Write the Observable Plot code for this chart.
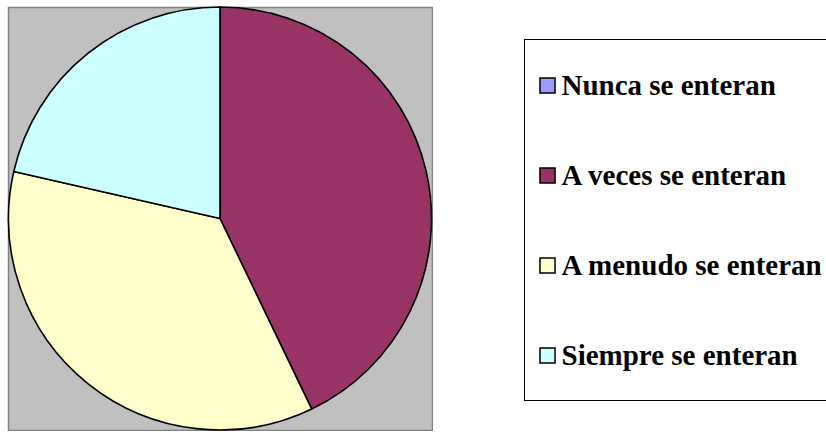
<!DOCTYPE html>
<html><head><meta charset="utf-8">
<script src="https://cdn.jsdelivr.net/npm/d3@7"></script>
<script src="https://cdn.jsdelivr.net/npm/@observablehq/plot@0.6"></script>
<style>
html,body{margin:0;padding:0;background:#fff;overflow:hidden;width:826px;height:432px}
#pie{position:absolute;left:0;top:0}
#legend{position:absolute;left:524px;top:39px}
#legend svg{border:1px solid #000;border-right:none;display:block;overflow:visible}
</style></head><body>
<div id="pie"></div><div id="legend"></div>
<script>
const categories = ["Nunca se enteran", "A veces se enteran", "A menudo se enteran", "Siempre se enteran"];
const values = [0, 12, 10, 6];
const colors = ["#9999FF", "#993366", "#FFFFCC", "#CCFFFF"];

const data = categories.map((c, i) => ({category: c, value: values[i]}));
const colorOpts = {type: "ordinal", domain: categories, range: colors};
const color = Plot.scale({color: colorOpts});

function pieMark(index, scales, vals, dims) {
  const {width, height, marginLeft, marginRight, marginTop, marginBottom} = dims;
  const cx = (marginLeft + width - marginRight) / 2;
  const cy = (marginTop + height - marginBottom) / 2;
  const r = Math.min(width - marginLeft - marginRight, height - marginTop - marginBottom) / 2;
  const arcs = d3.pie().sort(null).value(d => d.value)(data);
  const arc = d3.arc().innerRadius(0).outerRadius(r);
  const g = d3.create("svg:g").attr("transform", `translate(${cx},${cy})`);
  g.selectAll("path").data(arcs).join("path")
    .attr("d", arc)
    .attr("fill", d => color.apply(d.data.category))
    .attr("stroke", "#000")
    .attr("stroke-width", 1.6)
    .attr("stroke-linejoin", "round");
  return g.node();
}

const pie = Plot.plot({
  width: 433, height: 431,
  marginLeft: 8, marginTop: 7, marginRight: 1, marginBottom: 1,
  marks: [
    Plot.frame({fill: "#c0c0c0", stroke: "#808080", strokeWidth: 1.5}),
    pieMark
  ]
});
document.getElementById("pie").appendChild(pie);

const legend = Plot.plot({
  width: 302, height: 360,
  marginLeft: 0, marginRight: 0, marginTop: 44, marginBottom: 43.5,
  y: {type: "point", domain: categories, axis: null, padding: 0},
  color: colorOpts,
  marks: [
    Plot.dot(data, {y: "category", fill: "category", symbol: "square", r: 8.5, stroke: "#000", strokeWidth: 1.5, frameAnchor: "left", dx: 22}),
    Plot.text(data, {y: "category", text: "category", frameAnchor: "left", dx: 36, textAnchor: "start", fontSize: 29, fontWeight: "bold", fontFamily: "Liberation Serif, Times New Roman, serif", fill: "#000"})
  ]
});
document.getElementById("legend").appendChild(legend);
</script>
</body></html>
